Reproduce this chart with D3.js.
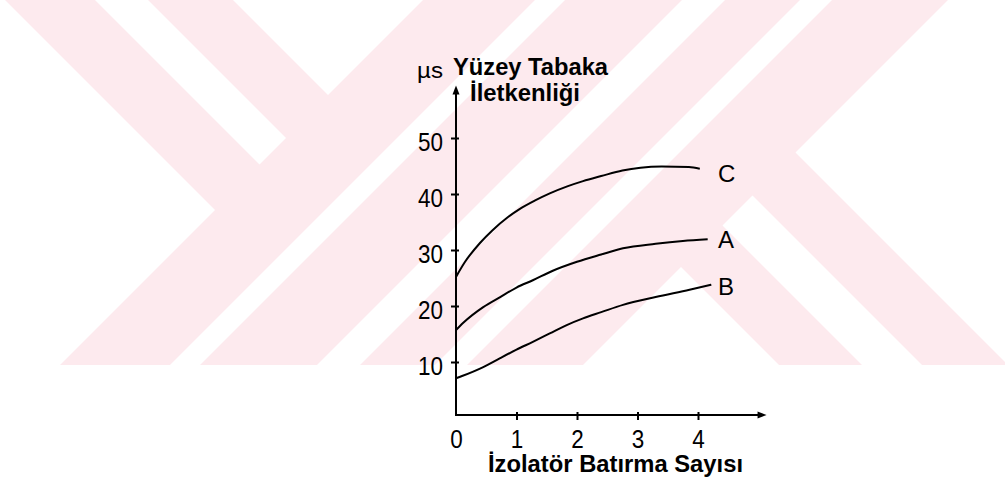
<!DOCTYPE html>
<html>
<head>
<meta charset="utf-8">
<script src="https://cdn.jsdelivr.net/npm/d3@7"></script>
<style>
  html, body { margin: 0; padding: 0; background: #fff; }
  svg { display: block; }
  text { font-family: "Liberation Sans", Arial, sans-serif; fill: #000; }
</style>
</head>
<body>
<svg id="chart" width="1005" height="480"></svg>
<script>
// ---- data ----
const xTicks = [0, 1, 2, 3, 4];
const yTicks = [10, 20, 30, 40, 50];
const seriesNames = ["C", "A", "B"];
const xC = [0, 0.15, 0.4, 0.6, 0.85, 1.05, 1.3, 1.55, 1.85, 2.1, 2.4, 2.75, 3.05, 3.4, 3.85, 4.03];
const yC = [25.2, 27.9, 31.3, 33.5, 35.8, 37.3, 38.8, 40.1, 41.4, 42.3, 43.2, 44.2, 44.7, 44.9, 44.8, 44.5];
const xA = [0, 0.12, 0.45, 0.73, 1.0, 1.27, 1.6, 2.0, 2.4, 2.76, 3.3, 3.75, 4.16];
const yA = [15.7, 17.0, 19.8, 21.6, 23.3, 24.6, 26.3, 27.9, 29.2, 30.3, 31.1, 31.6, 31.9];
const xB = [0, 0.1, 0.45, 0.73, 1.0, 1.27, 1.55, 1.83, 2.1, 2.4, 2.76, 3.3, 3.86, 4.22];
const yB = [7.1, 7.5, 9.1, 10.7, 12.2, 13.6, 15.1, 16.6, 17.8, 18.9, 20.2, 21.6, 22.9, 23.8];
const labelValues = [43.6, 31.9, 23.5];
const yTitle1 = "Yüzey Tabaka";
const yTitle2 = "İletkenliği";
const yUnit = "µs";
const xTitle = "İzolatör Batırma Sayısı";

// ---- setup ----
const svg = d3.select("#chart");
const x = d3.scaleLinear().domain([0, 4]).range([456, 698]);
const y = d3.scaleLinear().domain([0, 50]).range([418, 138]);

// ---- watermark background ----
const defs = svg.append("defs");
defs.append("clipPath").attr("id", "wm").append("rect")
  .attr("x", 0).attr("y", 0).attr("width", 1005).attr("height", 365);
const wm = svg.append("g").attr("clip-path", "url(#wm)");
wm.append("rect").attr("x", 0).attr("y", 0).attr("width", 1005).attr("height", 365)
  .attr("fill", "#fdeaee");
const whiteShapes = [
  [[-10,-10],[-5,-10],[215,210],[-10,435]],
  [[85,-10],[259.5,164.5],[286,138],[138,-10]],
  [[223,-10],[328,95],[433,-10]],
  [[545,-10],[575,-10],[-10,575],[-10,545]],
  [[692,-10],[735,-10],[-10,735],[-10,692]],
  [[810,-10],[842,-10],[-10,842],[-10,810]],
  [[681,267],[548,400],[814,400]],
  [[722.5,225.5],[752.5,195.5],[957,400],[897,400]],
  [[795.5,152.5],[958,-10],[1100,-10],[1100,457]]
];
wm.selectAll("polygon").data(whiteShapes).join("polygon")
  .attr("points", d => d.map(p => p.join(",")).join(" "))
  .attr("fill", "#fff");

// ---- axes ----
const axisY0 = y(0) - 3;
const yAxis = svg.append("g")
  .attr("transform", `translate(${x(0)},0)`)
  .call(d3.axisLeft(y).tickValues(yTicks).tickSize(5).tickPadding(8).tickFormat(d3.format("d")));
yAxis.select(".domain").remove();
yAxis.selectAll(".tick line").attr("x1", 3).attr("stroke", "#000").attr("stroke-width", 2);
yAxis.selectAll(".tick text")
  .attr("font-size", 25).attr("dy", "0.48em")
  .attr("textLength", d => String(d).length * 12.5).attr("lengthAdjust", "spacingAndGlyphs")
  .style("font-family", "'Liberation Sans', Arial, sans-serif").attr("fill", "#000");

const xAxis = svg.append("g")
  .attr("transform", `translate(0,${axisY0})`)
  .call(d3.axisBottom(x).tickValues(xTicks).tickSize(5).tickPadding(10).tickFormat(d3.format("d")));
xAxis.select(".domain").remove();
xAxis.selectAll(".tick line").attr("y1", -3).attr("stroke", "#000").attr("stroke-width", 2)
  .attr("display", d => d === 0 ? "none" : null);
xAxis.selectAll(".tick text")
  .attr("font-size", 25)
  .attr("textLength", 12.5).attr("lengthAdjust", "spacingAndGlyphs")
  .style("font-family", "'Liberation Sans', Arial, sans-serif").attr("fill", "#000");

// axis lines with arrows
const yTop = y(59);
const xRight = x(5.1);
svg.append("line").attr("x1", x(0)).attr("x2", x(0)).attr("y1", axisY0 + 1).attr("y2", yTop + 3)
  .attr("stroke", "#000").attr("stroke-width", 2);
svg.append("path")
  .attr("d", `M${x(0)},${yTop - 2} L${x(0) - 3.5},${yTop + 7} L${x(0) + 3.5},${yTop + 7} Z`)
  .attr("fill", "#000");
svg.append("line").attr("x1", x(0) - 1).attr("x2", xRight - 3).attr("y1", axisY0).attr("y2", axisY0)
  .attr("stroke", "#000").attr("stroke-width", 2);
svg.append("path")
  .attr("d", `M${xRight + 2},${axisY0} L${xRight - 7},${axisY0 - 3.5} L${xRight - 7},${axisY0 + 3.5} Z`)
  .attr("fill", "#000");

// ---- curves ----
const series = [
  { name: seriesNames[0], xs: xC, ys: yC, lv: labelValues[0] },
  { name: seriesNames[1], xs: xA, ys: yA, lv: labelValues[1] },
  { name: seriesNames[2], xs: xB, ys: yB, lv: labelValues[2] }
];
const line = d3.line().x(d => x(d[0])).y(d => y(d[1])).curve(d3.curveMonotoneX);
svg.selectAll("path.curve").data(series).join("path")
  .attr("class", "curve")
  .attr("d", s => line(s.xs.map((v, i) => [v, s.ys[i]])))
  .attr("fill", "none").attr("stroke", "#000").attr("stroke-width", 2)
  .attr("stroke-linejoin", "round");

svg.selectAll("text.clabel").data(series).join("text")
  .attr("class", "clabel")
  .attr("x", x(4.33)).attr("y", s => y(s.lv)).attr("dy", "0.35em")
  .attr("font-size", 24).text(s => s.name);

// ---- titles ----
svg.append("text").attr("x", 417).attr("y", 78).attr("font-size", 22)
  .attr("textLength", 26).attr("lengthAdjust", "spacingAndGlyphs").text(yUnit);
svg.append("text").attr("x", 453).attr("y", 75).attr("font-size", 24).attr("font-weight", "bold")
  .attr("textLength", 155).attr("lengthAdjust", "spacingAndGlyphs").text(yTitle1);
svg.append("text").attr("x", 470).attr("y", 101).attr("font-size", 23).attr("font-weight", "bold")
  .attr("textLength", 110).attr("lengthAdjust", "spacingAndGlyphs").text(yTitle2);
svg.append("text").attr("x", 488).attr("y", 472).attr("font-size", 23).attr("font-weight", "bold")
  .attr("textLength", 255).attr("lengthAdjust", "spacingAndGlyphs").text(xTitle);
</script>
</body>
</html>
